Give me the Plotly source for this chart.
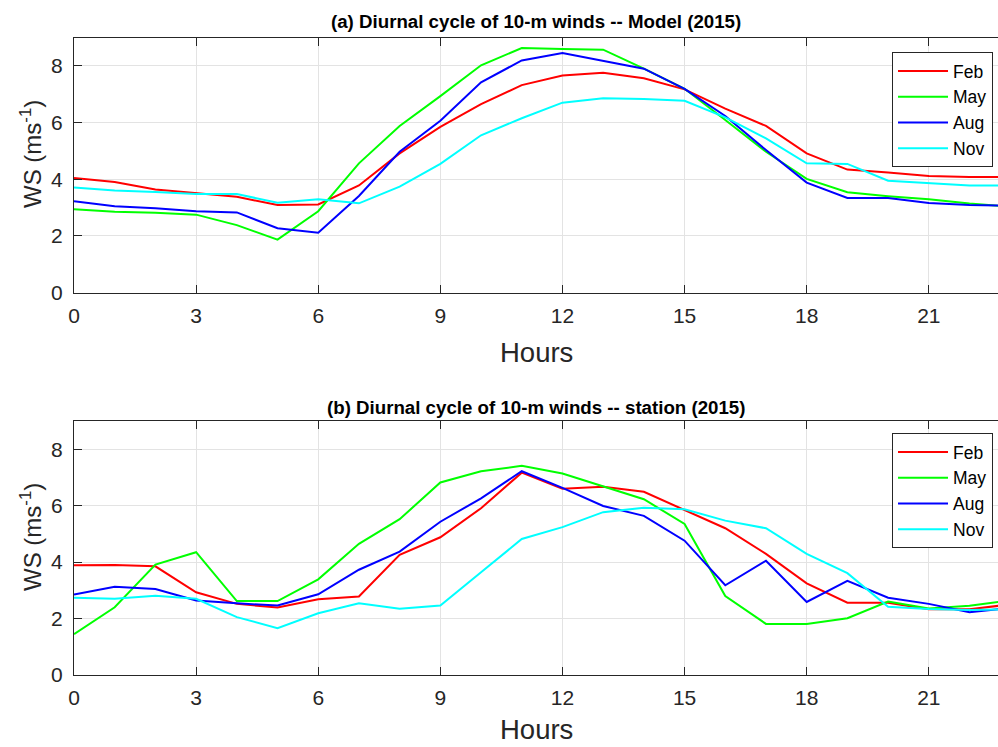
import plotly.graph_objects as go

# Hour of day
hours = list(range(24))
months = ["Feb", "May", "Aug", "Nov"]
month_colors = ["#FF0000", "#00FF00", "#0000FF", "#00FFFF"]

# (a) Model 10-m wind speed (m/s)
model_feb = [4.04, 3.90, 3.64, 3.50, 3.38, 3.09, 3.11, 3.78, 4.91, 5.85, 6.65, 7.32,
             7.66, 7.76, 7.56, 7.17, 6.49, 5.88, 4.91, 4.34, 4.24, 4.11, 4.08, 4.08]
model_may = [2.94, 2.85, 2.82, 2.75, 2.38, 1.87, 2.87, 4.56, 5.88, 6.93, 8.02, 8.63,
             8.59, 8.57, 7.90, 7.19, 6.09, 4.97, 4.01, 3.54, 3.40, 3.29, 3.14, 3.03]
model_aug = [3.22, 3.05, 2.98, 2.87, 2.83, 2.27, 2.11, 3.41, 4.97, 6.06, 7.42, 8.19,
             8.45, 8.17, 7.90, 7.19, 6.23, 5.03, 3.88, 3.34, 3.34, 3.16, 3.09, 3.07]
model_nov = [3.71, 3.60, 3.55, 3.48, 3.48, 3.17, 3.29, 3.15, 3.74, 4.54, 5.55, 6.15,
             6.70, 6.86, 6.83, 6.77, 6.18, 5.44, 4.56, 4.54, 3.95, 3.87, 3.78, 3.78]

# (b) Station 10-m wind speed (m/s)
station_feb = [3.89, 3.90, 3.85, 2.93, 2.52, 2.39, 2.68, 2.78, 4.26, 4.88, 5.91, 7.17,
               6.60, 6.67, 6.49, 5.85, 5.20, 4.29, 3.25, 2.56, 2.56, 2.33, 2.33, 2.50]
station_may = [1.45, 2.40, 3.91, 4.35, 2.62, 2.62, 3.39, 4.65, 5.52, 6.82, 7.22, 7.41,
               7.14, 6.68, 6.23, 5.35, 2.80, 1.81, 1.81, 2.01, 2.60, 2.36, 2.45, 2.65]
station_aug = [2.85, 3.13, 3.05, 2.64, 2.54, 2.46, 2.86, 3.73, 4.37, 5.43, 6.26, 7.22,
               6.63, 5.99, 5.64, 4.76, 3.18, 4.05, 2.59, 3.34, 2.74, 2.52, 2.22, 2.38]
station_nov = [2.74, 2.70, 2.81, 2.70, 2.05, 1.66, 2.19, 2.54, 2.35, 2.46, 3.64, 4.82,
               5.24, 5.77, 5.93, 5.87, 5.47, 5.20, 4.29, 3.61, 2.42, 2.34, 2.30, 2.33]

x_ticks = [0, 3, 6, 9, 12, 15, 18, 21]
y_ticks = [0, 2, 4, 6, 8]

titles = ["(a) Diurnal cycle of 10-m winds -- Model (2015)",
          "(b) Diurnal cycle of 10-m winds -- station (2015)"]

FONT = "Liberation Sans, Arial, Helvetica, sans-serif"
AXIS_COLOR = "#262626"
GRID_COLOR = "#e3e3e3"

fig = go.Figure()

panels = [
    ([model_feb, model_may, model_aug, model_nov], "x", "y", "legend"),
    ([station_feb, station_may, station_aug, station_nov], "x2", "y2", "legend2"),
]
for series, xa, ya, lg in panels:
    for name, vals, col in zip(months, series, month_colors):
        fig.add_trace(go.Scatter(
            x=hours, y=vals, name=name, mode="lines",
            line=dict(color=col, width=2),
            xaxis=xa, yaxis=ya, legend=lg,
        ))

x_dom = [74 / 998, 1.0]
y_doms = [[1 - 292.6 / 747, 1 - 37.5 / 747], [1 - 675 / 747, 1 - 421 / 747]]


def xaxis_style(anchor):
    return dict(
        domain=x_dom, anchor=anchor, range=[0, 22.7], automargin=False,
        tickvals=x_ticks, ticks="inside", ticklen=8, tickcolor=AXIS_COLOR,
        showline=True, linecolor=AXIS_COLOR, linewidth=1, mirror="allticks",
        showgrid=True, gridcolor=GRID_COLOR, gridwidth=1, zeroline=False,
        tickfont=dict(family=FONT, size=21, color=AXIS_COLOR),
        ticklabelstandoff=4,
    )


def yaxis_style(anchor, dom):
    return dict(
        domain=dom, anchor=anchor, range=[0, 9], automargin=False,
        tickvals=y_ticks, ticks="inside", ticklen=8, tickcolor=AXIS_COLOR,
        showline=True, linecolor=AXIS_COLOR, linewidth=1, mirror=False,
        showgrid=True, gridcolor=GRID_COLOR, gridwidth=1, zeroline=False,
        tickfont=dict(family=FONT, size=21, color=AXIS_COLOR),
        ticklabelstandoff=6,
    )


legend_common = dict(
    xanchor="right", yanchor="top", x=0.995,
    bgcolor="white", bordercolor="#262626", borderwidth=1,
    font=dict(family=FONT, size=17.5, color="black"),
    tracegroupgap=0, itemwidth=50,
)

annotations = []
for title, y_title, y_ws in zip(
        titles, [1 - 21 / 747, 1 - 407 / 747], [1 - 154 / 747, 1 - 537 / 747]):
    annotations.append(dict(
        text="<b>" + title + "</b>", x=(x_dom[0] + x_dom[1]) / 2, y=y_title,
        xref="paper", yref="paper", xanchor="center", yanchor="middle",
        showarrow=False, font=dict(family=FONT, size=18.7, color="black")))
    annotations.append(dict(
        text="WS (ms<sup>-1</sup>)", x=31 / 998, y=y_ws, textangle=-90,
        xref="paper", yref="paper", xanchor="center", yanchor="middle",
        showarrow=False, font=dict(family=FONT, size=24, color=AXIS_COLOR)))

# x-axis labels under each panel
for y_hours, anchor in [(1 - 352 / 747, "middle"), (0.0, "bottom")]:
    annotations.append(dict(
        text="Hours", x=(x_dom[0] + x_dom[1]) / 2, y=y_hours,
        xref="paper", yref="paper", xanchor="center", yanchor=anchor,
        showarrow=False, font=dict(family=FONT, size=27.5, color=AXIS_COLOR)))

fig.update_layout(
    width=998, height=747,
    margin=dict(l=0, r=0, t=0, b=0, autoexpand=False),
    paper_bgcolor="white", plot_bgcolor="white",
    showlegend=True,
    xaxis=xaxis_style("y"),
    yaxis=yaxis_style("x", y_doms[0]),
    xaxis2=xaxis_style("y2"),
    yaxis2=yaxis_style("x2", y_doms[1]),
    legend=dict(y=1 - 52 / 747, **legend_common),
    legend2=dict(y=1 - 433 / 747, **legend_common),
    annotations=annotations,
)

fig.write_html("out.html")
